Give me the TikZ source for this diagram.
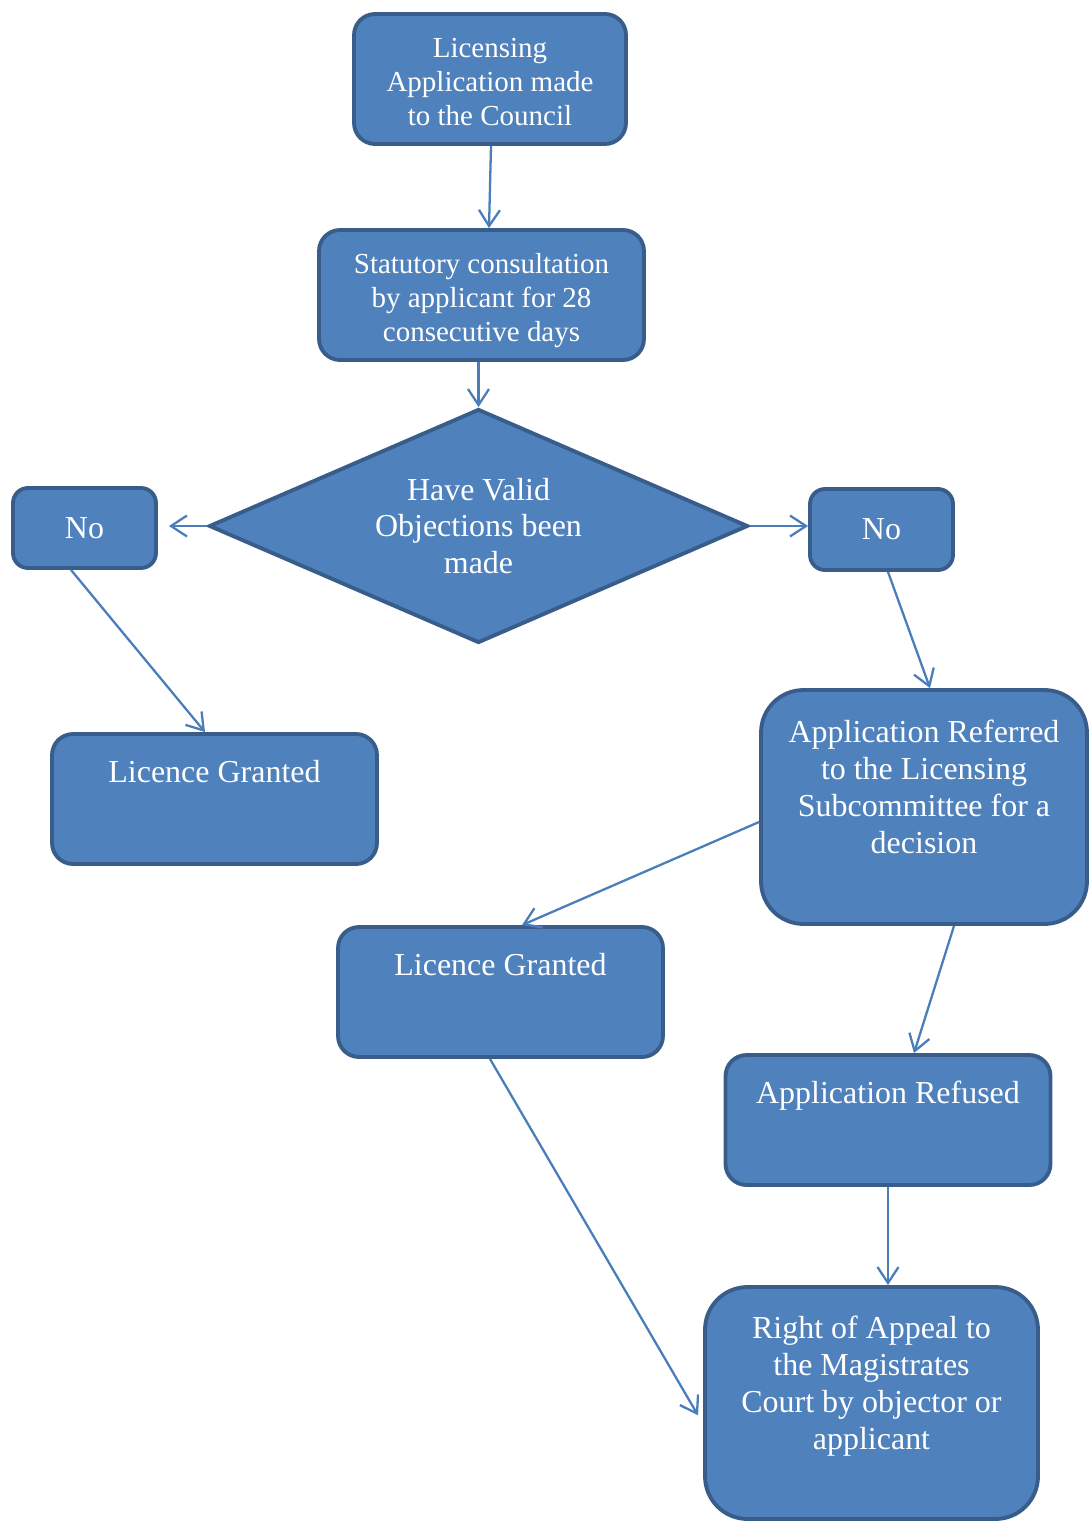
\documentclass[tikz,border=0pt]{standalone}
\usepackage{fontspec}
\setmainfont{Liberation Serif}
\usepackage{xcolor}
\usetikzlibrary{shapes.geometric,arrows.meta,positioning,calc}

\definecolor{boxfill}{HTML}{4F81BD}
\definecolor{boxedge}{HTML}{385D8A}
\definecolor{linkblue}{HTML}{4A7EBB}

\newcommand{\txtsmall}{\fontsize{16.5}{19.4}\selectfont}
\newcommand{\txtlarge}{\fontsize{18.2}{21}\selectfont}

\tikzset{
  flowbox/.style={rectangle, rounded corners=0.42cm, draw=boxedge, fill=boxfill,
    line width=2.2pt, text=white, align=center, inner sep=0pt},
  bigbox/.style={flowbox, rounded corners=0.85cm},
  decision/.style={diamond, aspect=2.3, draw=boxedge, fill=boxfill, line width=2.2pt,
    text=white, align=center, inner sep=0pt, font=\txtlarge},
  toptext/.style={anchor=north, yshift=-0.56cm, inner sep=0pt, align=center,
    text=white, font=\txtlarge},
  link/.style={draw=linkblue, line width=1.3pt,
    -{Straight Barb[length=0.32cm,width=0.42cm]}}
}

\begin{document}
\begin{tikzpicture}[x=0.02cm, y=-0.02cm]
    \useasboundingbox (0,0) rectangle (1089,1521);

    % Application and consultation
    \node[flowbox, font=\txtsmall, minimum width=5.44cm, minimum height=2.6cm] (apply) at (490,79)
        {\parbox[c][2.4cm][c]{5cm}{\vspace*{0.12cm}\centering Licensing\\Application made\\to the Council}};
    \node[flowbox, font=\txtsmall, minimum width=6.5cm, minimum height=2.6cm] (consult) at (481.5,295)
        {\parbox[c][2.4cm][c]{6cm}{\vspace*{0.22cm}\centering Statutory consultation\\by applicant for 28\\consecutive days}};

    % Decision
    \node[decision, minimum width=10.78cm, minimum height=4.68cm] (objections) at (478.5,526)
        {Have Valid\\Objections been\\made};
    \node[flowbox, font=\txtlarge, minimum width=2.86cm, minimum height=1.6cm, rounded corners=0.3cm] (noleft) at (84.5,528) {No};
    \node[flowbox, font=\txtlarge, minimum width=2.86cm, minimum height=1.62cm, rounded corners=0.3cm] (noright) at (881.5,529.5) {No};

    % Outcomes
    \node[flowbox, minimum width=6.5cm, minimum height=2.6cm,
        label={[toptext]north:Licence Granted}] (grantleft) at (214.5,799) {};
    \node[bigbox, minimum width=6.52cm, minimum height=4.68cm,
        label={[toptext, yshift=-0.08cm]north:Application Referred\\to the Licensing\\Subcommittee for a\\decision}] (referred) at (924,807) {};
    \node[flowbox, minimum width=6.5cm, minimum height=2.6cm,
        label={[toptext]north:Licence Granted}] (grantmid) at (500.5,992) {};
    \node[flowbox, minimum width=6.5cm, minimum height=2.6cm,
        label={[toptext]north:Application Refused}] (refused) at (888,1120) {};
    \node[bigbox, minimum width=6.66cm, minimum height=4.64cm,
        label={[toptext, yshift=-0.06cm]north:Right of Appeal to\\the Magistrates\\Court by objector or\\applicant}] (appeal) at (871.5,1403) {};

    % Connectors
    \draw[link] ([xshift=0.02cm]apply.south) -- ([xshift=0.15cm]consult.north);
    \draw[link] (consult.south -| objections.north) -- (objections.north);
    \draw[link, shorten >=0.22cm] (objections.west) -- (objections.west -| noleft.east);
    \draw[link] (objections.east) -- (objections.east -| noright.west);
    \draw[link] ([xshift=-0.27cm]noleft.south) -- ([xshift=-0.19cm]grantleft.north);
    \draw[link] ([xshift=0.13cm]noright.south) -- ([xshift=0.12cm]referred.north);
    \draw[link] ([yshift=-0.3cm]referred.west) -- ([xshift=0.43cm]grantmid.north);
    \draw[link] ([xshift=0.6cm]referred.south) -- ([xshift=0.52cm]refused.north);
    \draw[link, shorten >=0.2cm] ([xshift=-0.21cm]grantmid.south) -- ([yshift=-0.42cm]appeal.west);
    \draw[link] (refused.south) -- (refused.south |- appeal.north);
\end{tikzpicture}
\end{document}
